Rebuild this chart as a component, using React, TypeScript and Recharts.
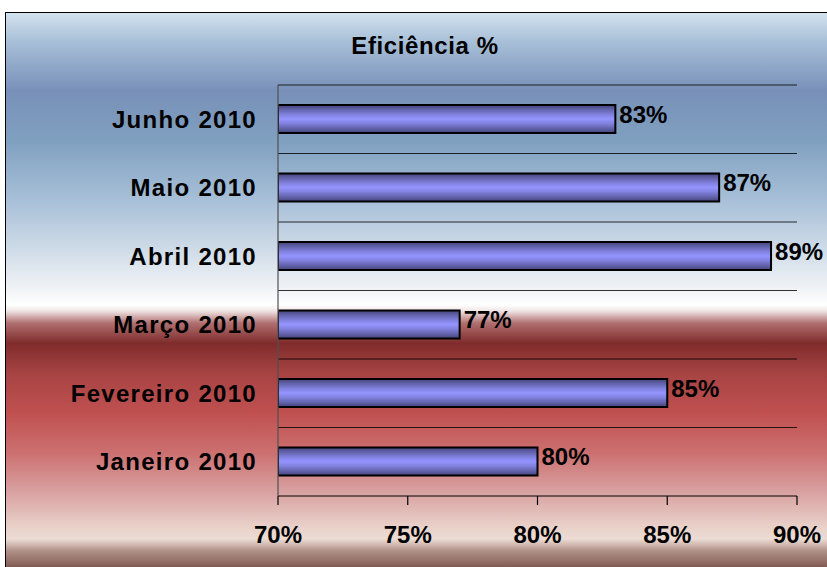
import { BarChart, Bar, XAxis, YAxis, CartesianGrid, LabelList } from 'recharts';

const months = ['Junho 2010', 'Maio 2010', 'Abril 2010', 'Março 2010', 'Fevereiro 2010', 'Janeiro 2010'];
const efficiency = [83, 87, 89, 77, 85, 80];
const xTicks = [70, 75, 80, 85, 90];

const data = months.map((month, i) => ({ month, value: efficiency[i] }));

const FONT = '"Liberation Sans", Arial, sans-serif';

const background = `linear-gradient(to bottom,
  #d4e2ee 0px, #a8c0d8 28px, #7890b8 78px, #80a0c0 128px, #a8c0d8 188px,
  #d0dce8 238px, #f4f6f8 280px, #ffffff 292px, #f0e4e4 298px, #b07070 310px,
  #802c2c 330px, #a84444 362px, #c05050 400px, #cc7070 440px, #d8a0a0 478px,
  #e8d0c8 513px, #ecdcd4 526px, #b09088 538px, #704840 560px)`;

const gridLines = ({ offset }: any) =>
  months.map((_, i) => offset.top + (i * offset.height) / months.length);

export default function App() {
  return (
    <div style={{ position: 'absolute', left: 0, top: 0, width: 827, height: 567, overflow: 'hidden', fontFamily: FONT }}>
      <div
        style={{
          position: 'absolute',
          left: 5,
          top: 12,
          width: 900,
          height: 600,
          border: '1.5px solid #000',
          background,
        }}
      />
      <div
        style={{
          position: 'absolute',
          left: 325,
          width: 200,
          top: 32,
          textAlign: 'center',
          fontWeight: 'bold',
          fontSize: 24,
          letterSpacing: 0.6,
          color: '#000',
        }}
      >
        Eficiência %
      </div>
      <div style={{ position: 'absolute', left: 0, top: 0 }}>
        <BarChart
          width={827}
          height={567}
          data={data}
          layout="vertical"
          margin={{ top: 85, right: 30, bottom: 0, left: 0 }}
          barCategoryGap={0}
        >
          <defs>
            <linearGradient id="barFill" x1="0" y1="0" x2="0" y2="1">
              <stop offset="0%" stopColor="#44447a" />
              <stop offset="15%" stopColor="#6060a8" />
              <stop offset="35%" stopColor="#8282e0" />
              <stop offset="50%" stopColor="#9494ff" />
              <stop offset="65%" stopColor="#8282e0" />
              <stop offset="85%" stopColor="#6060a8" />
              <stop offset="100%" stopColor="#44447a" />
            </linearGradient>
          </defs>
          <CartesianGrid
            horizontal
            vertical={false}
            stroke="#000"
            strokeOpacity={0.8}
            strokeWidth={1.2}
            horizontalCoordinatesGenerator={gridLines}
          />
          <XAxis
            type="number"
            domain={[70, 90]}
            ticks={xTicks}
            allowDataOverflow
            tickFormatter={(v) => `${v}%`}
            height={71}
            axisLine={{ stroke: '#000', strokeWidth: 1.2 }}
            tickLine={{ stroke: '#000', strokeWidth: 1.2 }}
            tickSize={9}
            tickMargin={21}
            tick={{ fill: '#000', fontSize: 24, fontWeight: 'bold', fontFamily: FONT }}
          />
          <YAxis
            type="category"
            dataKey="month"
            width={278}
            axisLine={{ stroke: '#505050', strokeWidth: 1.2 }}
            tickLine={false}
            tickSize={0}
            tickMargin={21}
            tick={{ fill: '#000', fontSize: 24, fontWeight: 'bold', fontFamily: FONT, letterSpacing: 1.3 }}
          />
          <Bar
            dataKey="value"
            barSize={28}
            fill="url(#barFill)"
            stroke="#000"
            strokeWidth={2}
            isAnimationActive={false}
          >
            <LabelList
              dataKey="value"
              position="right"
              offset={4}
              formatter={(v: any) => `${v}%`}
              style={{ fill: '#000', fontSize: 24, fontWeight: 'bold', fontFamily: FONT }}
              dy={-5}
            />
          </Bar>
        </BarChart>
      </div>
    </div>
  );
}
